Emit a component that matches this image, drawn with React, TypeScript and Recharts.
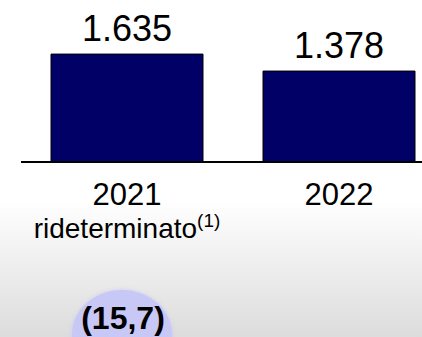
import { BarChart, Bar, XAxis, YAxis, LabelList } from 'recharts';

const years = ['2021', '2022'];
const values = [1635, 1378];
const notes = ['rideterminato', ''];
const delta = '(15,7)';

const data = years.map((year, i) => ({ year, value: values[i], note: notes[i] }));

const FONT = '"Liberation Sans", Arial, sans-serif';

const fmt = (v: any) => Number(v).toLocaleString('it-IT');

function YearTick(props: any) {
  const { x, y, payload, index } = props;
  const note = notes[index];
  return (
    <g>
      <text x={x} y={y + 43} textAnchor="middle" fontSize={31} fill="#000" fontFamily={FONT}>
        {payload.value}
      </text>
      {note && (
        <text x={x} y={y + 76} textAnchor="middle" fontSize={28} fill="#000" fontFamily={FONT}>
          {note}
          <tspan fontSize={19} dy={-11}>(1)</tspan>
        </text>
      )}
    </g>
  );
}

export default function App() {
  return (
    <div
      style={{
        position: 'absolute',
        left: 0,
        top: 0,
        width: 422,
        height: 337,
        overflow: 'hidden',
        background: 'linear-gradient(to bottom, #ffffff 0px, #ffffff 200px, #dcdcdc 337px)',
        fontFamily: FONT,
      }}
    >
      <BarChart
        width={445}
        height={337}
        data={data}
        margin={{ top: 30, right: 0, bottom: 0, left: 21 }}
        barCategoryGap={30}
      >
        <YAxis hide domain={[0, 2000]} />
        <XAxis
          dataKey="year"
          height={175}
          axisLine={{ stroke: '#000', strokeWidth: 2 }}
          tickLine={false}
          tickSize={0}
          tickMargin={0}
          tick={<YearTick />}
          interval={0}
        />
        <Bar dataKey="value" fill="#000066" stroke="#000" strokeWidth={1} isAnimationActive={false}>
          <LabelList
            dataKey="value"
            position="top"
            offset={13}
            formatter={fmt}
            fontSize={36}
            fill="#000"
            fontFamily={FONT}
          />
        </Bar>
      </BarChart>
      <div
        style={{
          position: 'absolute',
          left: 72,
          top: 290,
          width: 100,
          height: 90,
          borderRadius: '50%',
          background: '#c8c8f6',
          boxShadow: '0 0 3px 1px rgba(200,200,246,0.6)',
        }}
      />
      <div
        style={{
          position: 'absolute',
          left: 0,
          top: 302,
          width: 246,
          textAlign: 'center',
          fontSize: 32,
          lineHeight: '32px',
          fontWeight: 'bold',
          color: '#000',
        }}
      >
        {delta}
      </div>
    </div>
  );
}
